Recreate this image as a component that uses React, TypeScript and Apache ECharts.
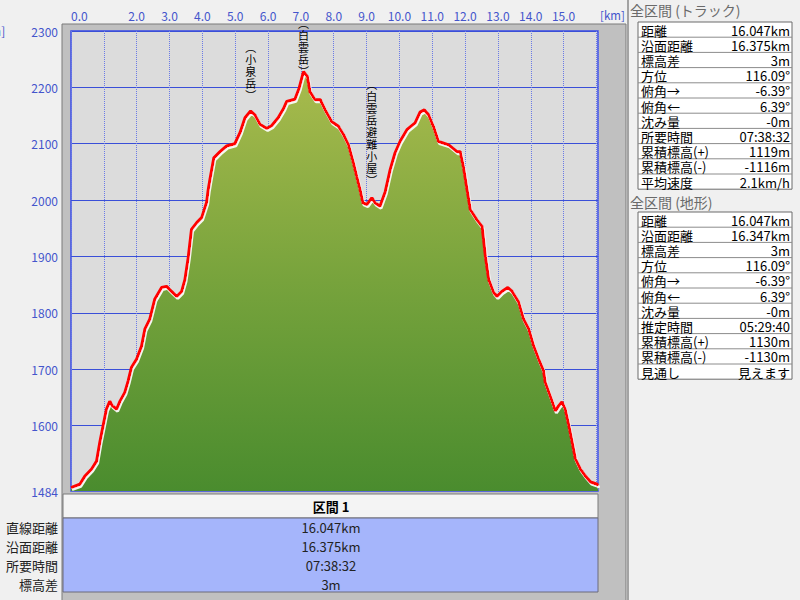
import React, { useEffect, useRef } from "react";
import * as echarts from "echarts";

// ---- profile data (distance km, elevation m) ----
const distanceKm = [
  0.0, 0.27, 0.42, 0.63, 0.78, 0.88, 0.98, 1.08, 1.18, 1.26, 1.39, 1.49, 1.64, 1.74, 1.84, 2.0,
  2.15, 2.25, 2.4, 2.55, 2.76, 2.91, 3.06, 3.22, 3.37, 3.47, 3.57, 3.67, 3.83, 3.98, 4.13, 4.18,
  4.23, 4.35, 4.54, 4.74, 4.99, 5.15, 5.3, 5.47, 5.6, 5.76, 5.96, 6.11, 6.31, 6.47, 6.57, 6.82,
  6.95, 7.03, 7.08, 7.2, 7.28, 7.43, 7.59, 7.74, 7.94, 8.14, 8.3, 8.45, 8.6, 8.7, 8.8, 8.89,
  9.01, 9.16, 9.26, 9.41, 9.57, 9.72, 9.87, 10.02, 10.23, 10.48, 10.63, 10.76, 10.89, 11.04, 11.19, 11.5,
  11.75, 11.85, 11.95, 12.06, 12.16, 12.36, 12.52, 12.62, 12.72, 12.87, 12.97, 13.12, 13.3, 13.43, 13.63, 13.78,
  13.94, 14.09, 14.24, 14.39, 14.44, 14.55, 14.65, 14.75, 14.85, 14.95, 15.05, 15.16, 15.26, 15.36, 15.51, 15.67,
  15.82, 16.02, 16.047,
];
const elevationM = [
  1490, 1496, 1510, 1523, 1537, 1571, 1600, 1629, 1643, 1635, 1629, 1643, 1659, 1679, 1703, 1718,
  1741, 1771, 1789, 1824, 1845, 1847, 1838, 1829, 1838, 1859, 1898, 1948, 1960, 1969, 1996, 2019,
  2036, 2075, 2086, 2096, 2100, 2120, 2146, 2158, 2151, 2134, 2127, 2132, 2146, 2162, 2175, 2179,
  2199, 2217, 2228, 2219, 2192, 2178, 2178, 2160, 2139, 2131, 2116, 2098, 2066, 2042, 2019, 1995,
  1992, 2004, 1995, 1989, 2015, 2054, 2084, 2104, 2125, 2137, 2156, 2160, 2151, 2130, 2104, 2098,
  2086, 2086, 2059, 2019, 1983, 1965, 1953, 1900, 1859, 1836, 1829, 1838, 1845, 1838, 1819, 1789,
  1771, 1741, 1718, 1697, 1677, 1659, 1643, 1626, 1635, 1642, 1629, 1600, 1571, 1541, 1523, 1510,
  1500, 1496, 1493,
];

// ---- axes ----
const yTickLabels = [1484, 1600, 1700, 1800, 1900, 2000, 2100, 2200, 2300];
const yGridValues = [1600, 1700, 1800, 1900, 2000, 2100, 2200, 2300];
const xHiddenLabels = [1, 16];
const xUnit = "[km]";
const yUnit = "[m]";

// ---- landmarks ----
const landmarkNames = ["小泉岳", "白雲岳", "白雲岳避難小屋"];
const landmarkKm = [5.47, 7.08, 9.16];
const landmarkElev = [2158, 2228, 2004];
const landmarkLift = [-10, 5, -12];

// ---- tables ----
const summaryTitle = "区間 1";
const summaryLabels = ["直線距離", "沿面距離", "所要時間", "標高差"];
const summaryValues = ["16.047km", "16.375km", "07:38:32", "3m"];
const trackTitle = "全区間 (トラック)";
const trackLabels = ["距離", "沿面距離", "標高差", "方位", "俯角→", "俯角←", "沈み量", "所要時間", "累積標高(+)", "累積標高(-)", "平均速度"];
const trackValues = ["16.047km", "16.375km", "3m", "116.09°", "-6.39°", "6.39°", "-0m", "07:38:32", "1119m", "-1116m", "2.1km/h"];
const terrainTitle = "全区間 (地形)";
const terrainLabels = ["距離", "沿面距離", "標高差", "方位", "俯角→", "俯角←", "沈み量", "推定時間", "累積標高(+)", "累積標高(-)", "見通し"];
const terrainValues = ["16.047km", "16.347km", "3m", "116.09°", "-6.39°", "6.39°", "-0m", "05:29:40", "1130m", "-1130m", "見えます"];

const FONT = '"Noto Sans CJK JP", "Noto Sans", sans-serif';
const AXIS_BLUE = "#4455cc";

function txt(x: number, y: number, text: string, opts: any = {}) {
  const align = opts.align || "left";
  return {
    type: "text",
    x,
    y,
    z: 5,
    style: {
      text,
      fill: opts.fill || "#000",
      fontSize: opts.size || 13,
      fontFamily: FONT,
      fontWeight: opts.weight || "normal",
      textAlign: align,
      align,
      textVerticalAlign: "middle",
      verticalAlign: "middle",
    },
  };
}

function panelTable(top: number, labels: string[], values: string[]) {
  const rowH = 15.2;
  const left = 638;
  const w = 154;
  const els: any[] = [];
  els.push({
    type: "rect",
    z: 3,
    shape: { x: left, y: top, width: w, height: rowH * labels.length },
    style: { fill: "#ffffff", stroke: "#6a6a6a", lineWidth: 1 },
  });
  labels.forEach((l, i) => {
    const y = top + i * rowH;
    if (i > 0)
      els.push({
        type: "line",
        z: 4,
        shape: { x1: left, y1: y, x2: left + w, y2: y },
        style: { stroke: "#8c8c8c", lineWidth: 1 },
      });
    els.push(txt(left + 3, y + rowH / 2 + 0.5, l));
    els.push(txt(left + w - 2, y + rowH / 2 + 0.5, values[i], { align: "right" }));
  });
  return els;
}

export default function App() {
  const ref = useRef<HTMLDivElement>(null);
  useEffect(() => {
    if (!ref.current) return;
    const chart = echarts.init(ref.current, null, { renderer: "svg" });
    const data = distanceKm.map((d, i) => [d, elevationM[i]]);

    const graphic: any[] = [
      // chart frame
      {
        type: "rect",
        z: -10,
        shape: { x: 62, y: 24, width: 564, height: 580 },
        style: { fill: "#c0c0c0", stroke: "#7a7a7a", lineWidth: 1 },
      },
      {
        type: "line",
        z: -9,
        shape: { x1: 628, y1: 0, x2: 628, y2: 600 },
        style: { stroke: "#8a8a8a", lineWidth: 1.5 },
      },
      // axis units
      txt(-14, 30, yUnit, { fill: AXIS_BLUE, size: 12 }),
      txt(600, 15, xUnit, { fill: AXIS_BLUE, size: 11.5 }),
      // summary table
      {
        type: "rect",
        z: 3,
        shape: { x: 63, y: 494, width: 535, height: 24 },
        style: { fill: "#f4f4f4", stroke: "#7a7a7a", lineWidth: 1 },
      },
      txt(331, 506, summaryTitle, { align: "center", weight: "bold" }),
      {
        type: "rect",
        z: 3,
        shape: { x: 63, y: 518, width: 535, height: 74 },
        style: { fill: "#a5b5fb", stroke: "#6a6a7a", lineWidth: 1 },
      },
      ...summaryValues.map((v, i) => txt(331, 527 + i * 19, v, { align: "center", fill: "#222" })),
      ...summaryLabels.map((l, i) => txt(58, 527 + i * 19, l, { align: "right", fill: "#222" })),
      // right panel
      txt(630, 10, trackTitle, { fill: "#6a6a6a", size: 14 }),
      ...panelTable(22, trackLabels, trackValues),
      txt(630, 202, terrainTitle, { fill: "#6a6a6a", size: 14 }),
      ...panelTable(212, terrainLabels, terrainValues),
    ];

    chart.setOption({
      animation: false,
      backgroundColor: "#f0f0f0",
      textStyle: { fontFamily: FONT },
      grid: {
        left: 71,
        right: 202,
        top: 31,
        bottom: 109,
        show: true,
        backgroundColor: "#dcdcdc",
        borderColor: "#3a4be6",
        borderWidth: 1.5,
      },
      xAxis: {
        type: "value",
        position: "top",
        min: 0,
        max: 16.047,
        interval: 1,
        axisLine: { show: false },
        axisTick: { show: false },
        axisLabel: {
          color: AXIS_BLUE,
          fontSize: 12,
          fontFamily: FONT,
          margin: 10,
          alignMinLabel: "left",
          showMaxLabel: false,
          formatter: (v: number) => (xHiddenLabels.includes(Math.round(v)) ? "" : v.toFixed(1)),
        },
        splitLine: { show: true, lineStyle: { color: "#6a7ae6", width: 1, type: "dotted" } },
      },
      yAxis: {
        type: "value",
        min: 1484,
        max: 2300,
        axisLine: { show: false },
        axisTick: { show: false, customValues: yGridValues },
        axisLabel: {
          color: AXIS_BLUE,
          fontSize: 12,
          fontFamily: FONT,
          margin: 13,
          customValues: yTickLabels,
          formatter: (v: number) => String(v),
        },
        splitLine: { show: true, lineStyle: { color: "#3a4fd8", width: 1, type: "solid" } },
      },
      series: [
        {
          type: "line",
          data,
          symbol: "none",
          smooth: false,
          lineStyle: {
            color: "#ff0000",
            width: 3,
            shadowColor: "rgba(250,250,250,0.95)",
            shadowOffsetX: 1,
            shadowOffsetY: 2,
            shadowBlur: 0,
          },
          areaStyle: {
            color: new echarts.graphic.LinearGradient(0, 0, 0, 1, [
              { offset: 0, color: "#a9bb4d" },
              { offset: 0.5, color: "#77a33c" },
              { offset: 1, color: "#4a8c2e" },
            ]),
            opacity: 1,
          },
          markPoint: {
            symbol: "circle",
            symbolSize: 0,
            silent: true,
            label: {
              show: true,
              position: "top",
              distance: 0,
              color: "#000",
              fontSize: 11,
              lineHeight: 12,
              fontFamily: FONT,
              formatter: (p: any) => ["︵", ...Array.from(p.name as string), "︶"].join("\n"),
            },
            data: landmarkNames.map((n, i) => ({
              name: n,
              coord: [landmarkKm[i], landmarkElev[i]],
              label: { offset: [0, landmarkLift[i]] },
            })),
          },
        },
      ],
      graphic,
    });
    return () => chart.dispose();
  }, []);
  return <div ref={ref} style={{ width: 800, height: 600, position: "absolute", left: 0, top: 0 }} />;
}
